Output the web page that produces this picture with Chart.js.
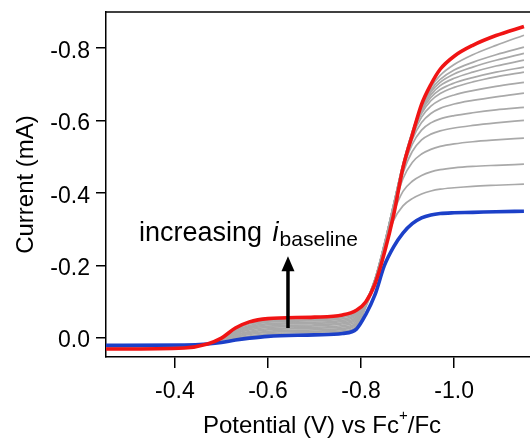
<!DOCTYPE html>
<html>
<head>
<meta charset="utf-8">
<script src="https://cdn.jsdelivr.net/npm/chart.js@4.4.0/dist/chart.umd.min.js"></script>
<style>
  body { margin: 0; background: #fff; }
  #wrap { width: 530px; height: 440px; }
</style>
</head>
<body>
<div id="wrap"><canvas id="chart" width="530" height="440"></canvas></div>
<script>
// potential grid (V vs Fc+/Fc), shared by every curve
const potential = [-0.25, -0.42, -0.47, -0.50, -0.53, -0.56, -0.60, -0.70, -0.76, -0.79,
  -0.81, -0.83, -0.85, -0.87, -0.89, -0.91, -0.93, -0.95, -0.97, -1.00, -1.04, -1.09, -1.15];

// highest baseline (red) and lowest baseline (blue), mA
const redCurrent = [0.030, 0.027, 0.016, 0.000, -0.028, -0.045, -0.054, -0.058, -0.064, -0.077,
  -0.100, -0.150, -0.235, -0.340, -0.470, -0.560, -0.645, -0.700, -0.742, -0.778, -0.808, -0.835, -0.860];
const blueCurrent = [0.020, 0.019, 0.016, 0.012, 0.005, 0.000, -0.005, -0.009, -0.013, -0.025,
  -0.065, -0.120, -0.200, -0.252, -0.290, -0.316, -0.332, -0.340, -0.344, -0.346, -0.347, -0.349, -0.350];

// intermediate runs (grey), lowest to highest
const gray1 = [0.021, 0.020, 0.016, 0.011, 0.003, -0.003, -0.008, -0.012, -0.017, -0.029,
  -0.085, -0.150, -0.245, -0.325, -0.365, -0.385, -0.398, -0.406, -0.411, -0.415, -0.419, -0.422, -0.425];
const gray2 = [0.021, 0.020, 0.016, 0.010, 0.000, -0.006, -0.012, -0.016, -0.020, -0.032,
  -0.088, -0.155, -0.250, -0.345, -0.405, -0.433, -0.449, -0.459, -0.465, -0.470, -0.474, -0.477, -0.480];
const gray3 = [0.022, 0.021, 0.016, 0.009, -0.002, -0.010, -0.016, -0.019, -0.024, -0.036,
  -0.090, -0.157, -0.252, -0.355, -0.440, -0.485, -0.508, -0.521, -0.529, -0.536, -0.542, -0.547, -0.552];
const gray4 = [0.023, 0.021, 0.016, 0.009, -0.004, -0.013, -0.019, -0.023, -0.027, -0.040,
  -0.092, -0.158, -0.254, -0.360, -0.455, -0.515, -0.547, -0.563, -0.572, -0.580, -0.587, -0.594, -0.601];
const gray5 = [0.024, 0.022, 0.016, 0.008, -0.007, -0.016, -0.023, -0.027, -0.031, -0.043,
  -0.094, -0.159, -0.255, -0.363, -0.465, -0.535, -0.574, -0.594, -0.605, -0.614, -0.622, -0.630, -0.637];
const gray6 = [0.024, 0.022, 0.016, 0.007, -0.009, -0.019, -0.026, -0.030, -0.035, -0.047,
  -0.095, -0.160, -0.256, -0.365, -0.470, -0.548, -0.595, -0.620, -0.634, -0.646, -0.656, -0.666, -0.676];
const gray7 = [0.025, 0.023, 0.016, 0.006, -0.012, -0.023, -0.030, -0.034, -0.039, -0.051,
  -0.096, -0.160, -0.256, -0.366, -0.474, -0.556, -0.610, -0.640, -0.657, -0.671, -0.683, -0.695, -0.706];
const gray8 = [0.026, 0.024, 0.016, 0.005, -0.014, -0.026, -0.033, -0.037, -0.042, -0.055,
  -0.097, -0.161, -0.257, -0.367, -0.476, -0.561, -0.620, -0.655, -0.675, -0.692, -0.707, -0.721, -0.734];
const gray9 = [0.026, 0.024, 0.016, 0.004, -0.016, -0.029, -0.037, -0.041, -0.046, -0.058,
  -0.098, -0.161, -0.257, -0.367, -0.477, -0.564, -0.626, -0.664, -0.686, -0.704, -0.719, -0.734, -0.748];
const gray10 = [0.027, 0.025, 0.016, 0.003, -0.019, -0.032, -0.040, -0.044, -0.049, -0.062,
  -0.099, -0.162, -0.258, -0.368, -0.478, -0.566, -0.631, -0.672, -0.697, -0.717, -0.734, -0.751, -0.767];
const gray11 = [0.028, 0.025, 0.016, 0.003, -0.021, -0.035, -0.044, -0.048, -0.053, -0.066,
  -0.100, -0.162, -0.258, -0.368, -0.479, -0.568, -0.635, -0.679, -0.706, -0.729, -0.748, -0.767, -0.786];
const gray12 = [0.029, 0.026, 0.016, 0.002, -0.023, -0.039, -0.047, -0.051, -0.057, -0.069,
  -0.100, -0.163, -0.259, -0.369, -0.479, -0.569, -0.638, -0.685, -0.714, -0.740, -0.761, -0.782, -0.803];
const gray13 = [0.029, 0.026, 0.016, 0.001, -0.026, -0.042, -0.051, -0.055, -0.060, -0.073,
  -0.101, -0.163, -0.259, -0.369, -0.480, -0.570, -0.641, -0.692, -0.725, -0.755, -0.782, -0.808, -0.836];

const xTicks = [-0.4, -0.6, -0.8, -1.0];
const yTicks = [0, -0.2, -0.4, -0.6, -0.8];

const FONT = '"Liberation Sans", Arial, sans-serif';

function pts(ys) {
  return potential.map((x, i) => ({ x: x, y: ys[i] }));
}

function curve(ys, color, width, order) {
  return {
    data: pts(ys),
    borderColor: color,
    borderWidth: width,
    pointRadius: 0,
    fill: false,
    cubicInterpolationMode: 'monotone',
    order: order
  };
}

const grays = [gray1, gray2, gray3, gray4, gray5, gray6, gray7, gray8, gray9, gray10, gray11, gray12, gray13];
const datasets = [curve(redCurrent, '#f01414', 3.6, 0), curve(blueCurrent, '#1c40c8', 3.6, 1)];
grays.forEach(g => datasets.push(curve(g, '#a9a9a9', 1.7, 2)));

// arrow + label, placed in data coordinates
const arrowX = -0.643, arrowFrom = -0.028, arrowTo = -0.226;
const labelX = -0.323, labelY = -0.268;

const annotate = {
  id: 'annotate',
  afterDraw(chart) {
    const { ctx, chartArea: a, scales: { x, y } } = chart;
    ctx.save();
    ctx.strokeStyle = '#000';
    ctx.lineWidth = 1.5;
    ctx.beginPath();
    ctx.moveTo(a.left, a.top);
    ctx.lineTo(a.right, a.top);
    ctx.stroke();

    // arrow
    const ax = x.getPixelForValue(arrowX);
    const y0 = y.getPixelForValue(arrowFrom);
    const y1 = y.getPixelForValue(arrowTo);
    ctx.lineWidth = 3.5;
    ctx.beginPath();
    ctx.moveTo(ax, y0);
    ctx.lineTo(ax, y1 + 12);
    ctx.stroke();
    ctx.fillStyle = '#000';
    ctx.beginPath();
    ctx.moveTo(ax, y1);
    ctx.lineTo(ax - 6.5, y1 + 15);
    ctx.lineTo(ax + 6.5, y1 + 15);
    ctx.closePath();
    ctx.fill();

    // "increasing i_baseline"
    const tx = x.getPixelForValue(labelX);
    const ty = y.getPixelForValue(labelY);
    ctx.textAlign = 'left';
    ctx.textBaseline = 'alphabetic';
    ctx.font = '27px ' + FONT;
    ctx.fillText('increasing', tx, ty);
    let cx = tx + ctx.measureText('increasing ').width + 3;
    ctx.font = 'italic 27px ' + FONT;
    ctx.fillText('i', cx, ty);
    cx += ctx.measureText('i').width + 1;
    ctx.font = '21px ' + FONT;
    ctx.fillText('baseline', cx, ty + 5);

    // x axis title with superscript
    const base = 433;
    ctx.font = '24px ' + FONT;
    const p1 = 'Potential (V) vs Fc', p3 = '/Fc';
    const w1 = ctx.measureText(p1).width, w3 = ctx.measureText(p3).width;
    ctx.font = '15px ' + FONT;
    const w2 = ctx.measureText('+').width;
    const total = w1 + w2 + w3;
    let px = (a.left + a.right) / 2 + 4 - total / 2;
    ctx.font = '24px ' + FONT;
    ctx.fillText(p1, px, base);
    px += w1;
    ctx.font = '15px ' + FONT;
    ctx.fillText('+', px, base - 13);
    px += w2;
    ctx.font = '24px ' + FONT;
    ctx.fillText(p3, px, base);
    ctx.restore();
  }
};

new Chart(document.getElementById('chart'), {
  type: 'line',
  data: { datasets: datasets },
  plugins: [annotate],
  options: {
    responsive: false,
    animation: false,
    layout: { padding: { top: 12, left: 0, right: 0, bottom: 0 } },
    plugins: { legend: { display: false }, tooltip: { enabled: false } },
    scales: {
      x: {
        type: 'linear',
        reverse: true,
        min: -1.163,
        max: -0.252,
        afterBuildTicks: s => { s.ticks = xTicks.map(v => ({ value: v })); },
        afterFit: s => { s.height = 83; s.paddingLeft = 0; s.paddingRight = 0; },
        grid: { display: true, drawOnChartArea: false, drawTicks: true, tickLength: 11, color: '#000', lineWidth: 1.5 },
        border: { display: true, color: '#000', width: 1.5 },
        ticks: { color: '#000', font: { family: FONT, size: 23 }, padding: 10, callback: v => v.toFixed(1) }
      },
      y: {
        type: 'linear',
        reverse: true,
        min: -0.9,
        max: 0.052,
        afterBuildTicks: s => { s.ticks = yTicks.map(v => ({ value: v })); },
        afterFit: s => { s.width = 106; s.paddingTop = 0; s.paddingBottom = 0; },
        grid: { display: true, drawOnChartArea: false, drawTicks: true, tickLength: 10, color: '#000', lineWidth: 1.5 },
        border: { display: true, color: '#000', width: 1.5 },
        ticks: { color: '#000', font: { family: FONT, size: 23 }, padding: 6, labelOffset: 3, callback: v => v.toFixed(1) },
        title: { display: true, text: 'Current (mA)', color: '#000', font: { family: FONT, size: 24 }, padding: { top: 12, bottom: 0 } }
      }
    }
  }
});
</script>
</body>
</html>
